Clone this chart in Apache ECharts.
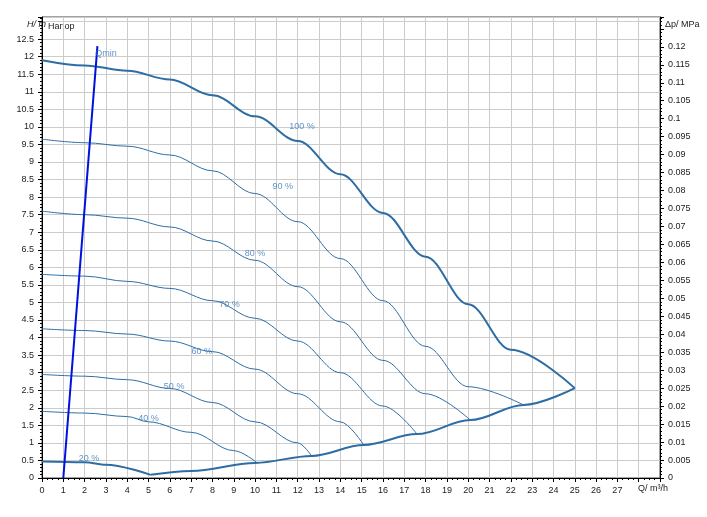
<!DOCTYPE html>
<html><head><meta charset="utf-8">
<script src="https://cdn.jsdelivr.net/npm/echarts@6/dist/echarts.min.js"></script>
<style>body{margin:0}#c{width:707px;height:517px}</style></head>
<body><div id="c"></div>
<script>
const c100 = [[0,11.9],[2,11.75],[4,11.6],[6,11.35],[8,10.9],[10,10.3],[12,9.6],[14,8.65],[16,7.55],[18,6.3],[20,4.95],[22,3.65],[25,2.56]];
const c90 = [[0,9.65],[2,9.55],[4,9.45],[6,9.2],[8,8.75],[10,8.1],[12,7.3],[14,6.25],[16,5.05],[18,3.75],[20,2.6],[22.6,2.08]];
const c80 = [[0,7.6],[2,7.5],[4,7.4],[6,7.15],[8,6.75],[10,6.2],[12,5.45],[14,4.45],[16,3.35],[18,2.4],[20.1,1.65]];
const c70 = [[0,5.8],[2,5.75],[4,5.6],[6,5.4],[8,5.05],[10,4.55],[12,3.9],[14,3.0],[16,2.05],[17.6,1.25]];
const c60 = [[0,4.25],[2,4.2],[4,4.1],[6,3.9],[8,3.6],[10,3.1],[12,2.4],[14,1.6],[15.1,0.94]];
const c50 = [[0,2.95],[2,2.9],[4,2.8],[6,2.55],[8,2.15],[10,1.6],[12,1.0],[12.65,0.63]];
const c40 = [[0,1.9],[2,1.85],[4,1.75],[5,1.6],[7,1.3],[9,0.78],[10.1,0.43]];
const c20 = [[0,0.47],[2,0.45],[3,0.38],[5.1,0.09]];
const sysCurve = [[5.1,0.09],[7,0.2],[10,0.43],[12.65,0.63],[15.1,0.94],[17.6,1.25],[20.1,1.65],[22.6,2.08],[25,2.56]];
const qmin = [[1,0],[2.6,12.3]];
const curveLabels = [['100 %',12.2,10.0],['90 %',11.3,8.3],['80 %',10.0,6.4],['70 %',8.8,4.95],['60 %',7.5,3.6],['50 %',6.2,2.6],['40 %',5.0,1.7],['20 %',2.2,0.55],['Qmin',3.0,12.1]];

const col = '#2e6da4';
const line = (d, w) => ({type:'line', data:d, smooth:0.35, smoothMonotone:'x', symbol:'none', lineStyle:{color:col, width:w}, z:3});
const lbl = {fontSize:9, color:'#222', fontFamily:'Liberation Sans'};
const chart = echarts.init(document.getElementById('c'));
chart.setOption({
  animation:false,
  grid:{left:42, right:47, top:17, bottom:39, show:true, borderColor:'#444', borderWidth:1},
  xAxis:{type:'value', min:0, max:29, interval:1,
    axisLine:{onZero:false, lineStyle:{color:'#000'}}, axisTick:{length:4, lineStyle:{color:'#000'}},
    minorTick:{show:true, splitNumber:4, length:2, lineStyle:{color:'#000'}},
    axisLabel:Object.assign({formatter:v=>v>27?'':v}, lbl),
    splitLine:{lineStyle:{color:'#ccc'}}},
  yAxis:[{type:'value', min:0, max:13.13, interval:0.5,
    axisLine:{show:true, lineStyle:{color:'#000'}}, axisTick:{length:4, lineStyle:{color:'#000'}},
    minorTick:{show:true, splitNumber:5, length:2, lineStyle:{color:'#000'}},
    axisLabel:Object.assign({formatter:v=>v>12.6?'':v}, lbl),
    splitLine:{lineStyle:{color:'#ccc'}}},
   {type:'value', min:0, max:0.1283, interval:0.005, position:'right',
    axisLine:{show:true, lineStyle:{color:'#000'}}, axisTick:{length:4, lineStyle:{color:'#000'}},
    minorTick:{show:true, splitNumber:5, length:2, lineStyle:{color:'#000'}},
    axisLabel:Object.assign({formatter:v=>v>0.1201?'':+v.toFixed(3)}, lbl),
    splitLine:{show:false}}],
  graphic:[
    {type:'text', left:27, top:20, style:{text:'H/ m', font:'italic 9px Liberation Sans', fill:'#222'}},
    {type:'text', left:48, top:22, style:{text:'Напор', font:'9px Liberation Sans', fill:'#222'}},
    {type:'text', left:665, top:20, style:{text:'Δp/ MPa', font:'9px Liberation Sans', fill:'#222'}},
    {type:'text', left:638, top:484, style:{text:'Q/ m³/h', font:'9px Liberation Sans', fill:'#222'}}
  ],
  series:[
    line(c100,2), line(c90,1), line(c80,1), line(c70,1), line(c60,1), line(c50,1), line(c40,1),
    line(c20,2), line(sysCurve,2),
    {type:'line', data:qmin, symbol:'none', lineStyle:{color:'#0010e0', width:2}, z:4},
    {type:'scatter', data:curveLabels.map(l=>[l[1],l[2],l[0]]), symbolSize:0, z:5,
      label:{show:true, position:'inside', formatter:p=>p.data[2], fontSize:9, color:'#3a78b8', fontFamily:'Liberation Sans'}}
  ]
});
</script></body></html>
